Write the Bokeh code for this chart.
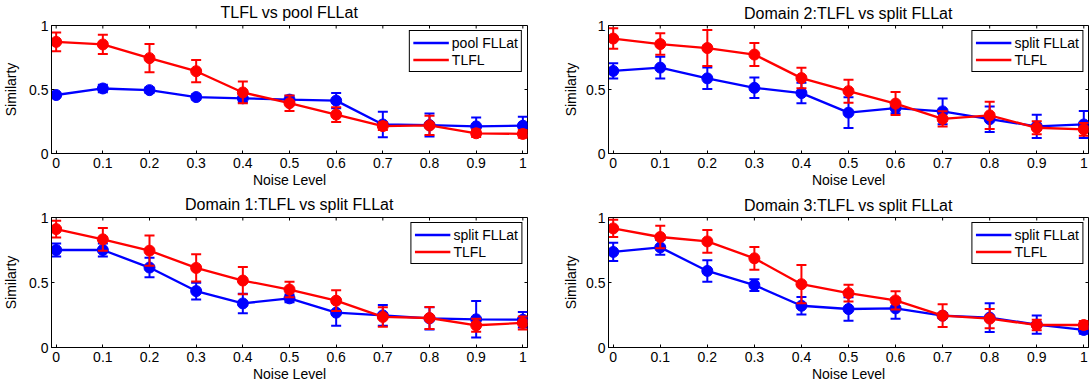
import math
from bokeh.plotting import figure
from bokeh.models import FixedTicker, Range1d
from bokeh.layouts import column, row
from bokeh.embed import file_html
from bokeh.resources import INLINE

FONT = "Liberation Sans"

noise = [0, 0.1, 0.2, 0.3, 0.4, 0.5, 0.6, 0.7, 0.8, 0.9, 1.0]
x_tick_labels = ["0", "0.1", "0.2", "0.3", "0.4", "0.5", "0.6", "0.7", "0.8", "0.9", "1"]
y_ticks = [0, 0.5, 1]
y_tick_labels = ["0", "0.5", "1"]
x_lim = (-0.01, 1.01)
y_lim = (0, 1)

titles = ["TLFL vs pool FLLat", "Domain 2:TLFL vs split FLLat",
          "Domain 1:TLFL vs split FLLat", "Domain 3:TLFL vs split FLLat"]
baseline_names = ["pool FLLat", "split FLLat", "split FLLat", "split FLLat"]

# Panel 1: TLFL vs pool FLLat
p1_base = [0.457, 0.508, 0.495, 0.441, 0.431, 0.421, 0.413, 0.227, 0.222, 0.212, 0.217]
p1_base_err = [0.012, 0.030, 0.020, 0.020, 0.030, 0.030, 0.060, 0.100, 0.090, 0.070, 0.070]
p1_tlfl = [0.872, 0.852, 0.745, 0.643, 0.477, 0.393, 0.304, 0.214, 0.219, 0.158, 0.153]
p1_tlfl_err = [0.073, 0.075, 0.110, 0.087, 0.085, 0.060, 0.058, 0.030, 0.075, 0.030, 0.030]

# Panel 2: Domain 2
p2_base = [0.645, 0.671, 0.587, 0.513, 0.472, 0.319, 0.355, 0.329, 0.268, 0.212, 0.227]
p2_base_err = [0.060, 0.085, 0.084, 0.080, 0.080, 0.120, 0.040, 0.100, 0.100, 0.090, 0.105]
p2_tlfl = [0.898, 0.855, 0.824, 0.773, 0.589, 0.487, 0.390, 0.270, 0.298, 0.201, 0.189]
p2_tlfl_err = [0.080, 0.084, 0.140, 0.090, 0.080, 0.090, 0.090, 0.060, 0.107, 0.050, 0.050]

# Panel 3: Domain 1
p3_base = [0.750, 0.750, 0.615, 0.434, 0.339, 0.378, 0.268, 0.247, 0.224, 0.217, 0.214]
p3_base_err = [0.050, 0.050, 0.075, 0.065, 0.075, 0.030, 0.100, 0.080, 0.085, 0.140, 0.060]
p3_tlfl = [0.911, 0.832, 0.745, 0.612, 0.515, 0.446, 0.360, 0.235, 0.227, 0.171, 0.189]
p3_tlfl_err = [0.064, 0.087, 0.116, 0.105, 0.105, 0.060, 0.080, 0.075, 0.085, 0.050, 0.050]

# Panel 4: Domain 3
p4_base = [0.735, 0.770, 0.589, 0.480, 0.321, 0.296, 0.301, 0.245, 0.230, 0.176, 0.135]
p4_base_err = [0.070, 0.057, 0.083, 0.045, 0.067, 0.090, 0.080, 0.020, 0.110, 0.070, 0.030]
p4_tlfl = [0.916, 0.850, 0.816, 0.686, 0.487, 0.418, 0.362, 0.245, 0.222, 0.173, 0.173]
p4_tlfl_err = [0.066, 0.087, 0.087, 0.088, 0.147, 0.065, 0.070, 0.088, 0.074, 0.040, 0.030]

panels = [
    (p1_base, p1_base_err, p1_tlfl, p1_tlfl_err),
    (p2_base, p2_base_err, p2_tlfl, p2_tlfl_err),
    (p3_base, p3_base_err, p3_tlfl, p3_tlfl_err),
    (p4_base, p4_base_err, p4_tlfl, p4_tlfl_err),
]

# layout: (width, height, left, right, top, bottom, ylabel standoff, title standoff)
geom = [
    (545, 192, 49, 18, 25, 36, 7, 6),
    (544, 192, 63, 1, 22, 39, 4, 3),
    (545, 197, 49, 18, 25, 40, 7, 6),
    (544, 197, 63, 1, 23, 42, 4, 4),
]

x_over = {v: s for v, s in zip(noise, x_tick_labels)}
y_over = {v: s for v, s in zip(y_ticks, y_tick_labels)}


def series(p, ys, errs, color, label):
    lo = [y - e for y, e in zip(ys, errs)]
    hi = [y + e for y, e in zip(ys, errs)]
    p.segment(x0=noise, y0=lo, x1=noise, y1=hi, line_color=color, line_width=2)
    p.scatter(x=noise + noise, y=lo + hi, marker="dash", size=10,
              line_color=color, line_width=2)
    p.line(x=noise, y=ys, line_color=color, line_width=2.3, legend_label=label)
    p.scatter(x=noise, y=ys, marker="circle", size=11, fill_color=color,
              line_color=color)


figs = []
for i, (title, bname, (b, be, t, te), g) in enumerate(zip(titles, baseline_names, panels, geom)):
    w, h, ml, mr, mt, mb, ylst, tst = g
    p = figure(width=w, height=h, output_backend="svg", toolbar_location=None,
               x_range=Range1d(*x_lim), y_range=Range1d(*y_lim),
               title=title, min_border_left=ml, min_border_right=mr,
               min_border_top=mt, min_border_bottom=mb)
    p.title.align = "center"
    p.title.vertical_align = "top"
    p.title.text_font = FONT
    p.title.text_font_size = "16px"
    p.title.text_font_style = "normal"
    p.title.text_color = "black"
    p.title.standoff = tst
    p.xgrid.visible = False
    p.ygrid.visible = False
    p.outline_line_color = "black"
    p.outline_line_alpha = 1
    p.outline_line_width = 1
    p.background_fill_color = "white"
    p.border_fill_color = "white"

    for ax, ticks, over in ((p.xaxis[0], noise, x_over), (p.yaxis[0], y_ticks, y_over)):
        ax.ticker = FixedTicker(ticks=ticks)
        ax.major_label_overrides = over
        ax.major_tick_in = 3
        ax.major_tick_out = 0
        ax.minor_tick_line_color = None
        ax.axis_line_color = "black"
        ax.major_tick_line_color = "black"
        ax.major_label_text_font = FONT
        ax.major_label_text_font_size = "14px"
        ax.major_label_text_color = "black"
        ax.axis_label_text_font = FONT
        ax.axis_label_text_font_size = "14px"
        ax.axis_label_text_font_style = "normal"
        ax.axis_label_text_color = "black"
    p.xaxis[0].axis_label = "Noise Level"
    p.xaxis[0].major_label_standoff = 4
    p.xaxis[0].axis_label_standoff = 1
    p.yaxis[0].axis_label = "Similarty"
    p.yaxis[0].major_label_standoff = 3
    p.yaxis[0].axis_label_standoff = ylst

    # inward ticks on the top and right edges of the box
    p.ray(x=noise, y=[y_lim[1]] * len(noise), length=3, length_units="screen",
          angle=-math.pi / 2, line_color="black", line_width=1)
    p.ray(x=[x_lim[1]] * len(y_ticks), y=y_ticks, length=3, length_units="screen",
          angle=math.pi, line_color="black", line_width=1)

    series(p, b, be, "#0000ff", bname)
    series(p, t, te, "#ff0000", "TLFL")

    lg = p.legend[0]
    lg.location = "top_right"
    lg.border_line_color = "black"
    lg.border_line_width = 1
    lg.border_line_alpha = 1
    lg.background_fill_color = "white"
    lg.background_fill_alpha = 1
    lg.label_text_font = FONT
    lg.label_text_font_size = "14px"
    lg.label_text_color = "black"
    lg.glyph_width = 36
    lg.glyph_height = 17
    lg.label_height = 17
    lg.label_standoff = 3
    lg.spacing = 0
    lg.padding = 3
    lg.margin = 5
    figs.append(p)

layout = column(row(figs[0], figs[1]), row(figs[2], figs[3]))
open("out.html", "w").write(file_html(layout, INLINE))
